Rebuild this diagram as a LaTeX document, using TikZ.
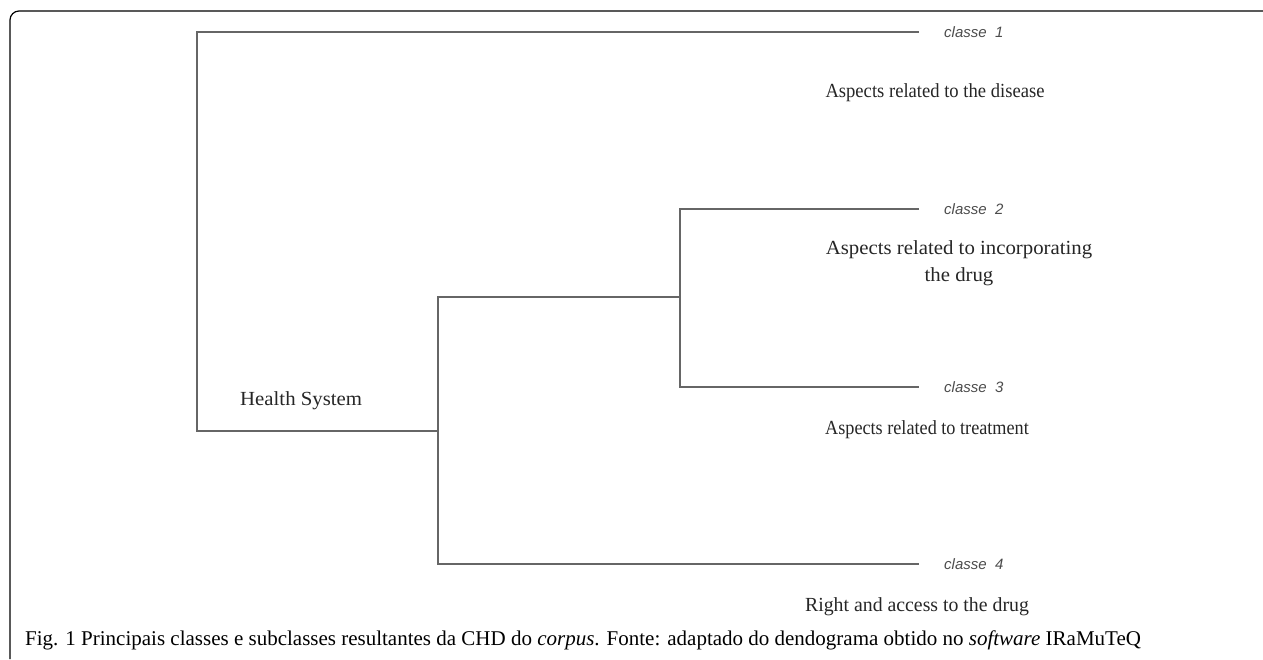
\documentclass[tikz,border=0pt]{standalone}
\usepackage{fontspec}
\usepackage{graphicx}
\setmainfont{Liberation Serif}
\newfontfamily\lsans{Liberation Sans}
\begin{document}
\begin{tikzpicture}[x=1pt,y=-1pt,
  link/.style={draw=black!60, line width=1.1pt},
  cls/.style={anchor=west, inner sep=0pt, font=\lsans\itshape\fontsize{15}{17}\selectfont, text=black!70},
  desc/.style={inner sep=0pt, font=\fontsize{20}{27}\selectfont, text=black!85, align=center},
  frame/.style={draw=black, line width=1.2pt, rounded corners=9pt}]
\useasboundingbox (0,0) rectangle (1263,659);
\draw[frame] (10,659) -- (10,11) -- (1263,11);
% junction points
\coordinate (root) at (197,431);
\coordinate (rootTop) at (197,32);
\coordinate (n1) at (438,431);
\coordinate (n1top) at (438,297);
\coordinate (n1bot) at (438,564);
\coordinate (n2) at (680,297);
\coordinate (n2top) at (680,209);
\coordinate (n2bot) at (680,387);
\coordinate (c1) at (919,32);
\coordinate (c2) at (919,209);
\coordinate (c3) at (919,387);
\coordinate (c4) at (919,564);
\draw[link] (c1) -- (rootTop) -- (root) -- (n1);
\draw[link] (n2) -- (n1top) -- (n1bot) -- (c4);
\draw[link] (c2) -- (n2top) -- (n2bot) -- (c3);
\node[cls] (l1) at (944,32) {classe\ \ 1};
\node[cls] (l2) at (944,209) {classe\ \ 2};
\node[cls] (l3) at (944,387) {classe\ \ 3};
\node[cls] (l4) at (944,564) {classe\ \ 4};
\node[desc] (d1) at (935,93) {\scalebox{0.93}[1]{Aspects related to the disease}};
\node[desc] (d2a) at (959,250) {\scalebox{1.04}[1]{Aspects related to incorporating}};
\node[desc] (d2b) at (959,277) {\scalebox{1.04}[1]{the drug}};
\node[desc] (d3) at (927,430) {\scalebox{0.91}[1]{Aspects related to treatment}};
\node[desc] (d4) at (917,607) {\scalebox{0.99}[1]{Right and access to the drug}};
\node[desc, anchor=west] (hs) at (240,401) {\scalebox{1.04}[1]{Health System}};
\node[anchor=west, inner sep=0pt, font=\fontsize{21}{24}\selectfont, text=black] (cap) at (25,640)
  {Fig. 1 Principais classes e subclasses resultantes da CHD do \textit{corpus}. Fonte: adaptado do dendograma obtido no \textit{software} IRaMuTeQ};
\end{tikzpicture}
\end{document}
